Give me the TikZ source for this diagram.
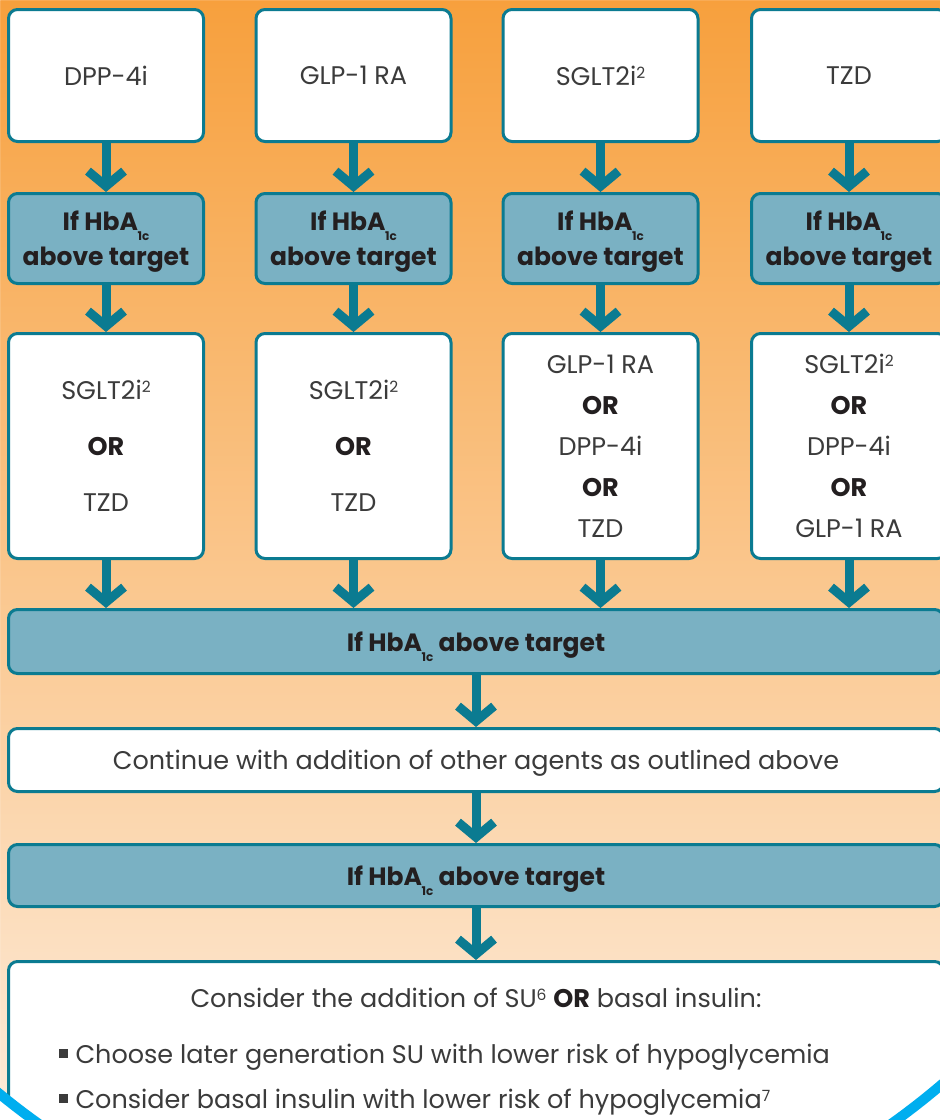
\documentclass[tikz,border=0pt]{standalone}
\usepackage{fontspec}
\setmainfont{Poppins}
\usetikzlibrary{arrows.meta}
\definecolor{boxteal}{HTML}{0B7B91}
\definecolor{boxblue}{HTML}{7AB1C3}
\definecolor{bgtop}{HTML}{F7A03D}
\definecolor{bgmid}{HTML}{FBC18D}
\definecolor{bgbot}{HTML}{FDEBD9}
\definecolor{ringblue}{HTML}{00AEEF}
\definecolor{txtgray}{HTML}{3B3B3B}
\definecolor{txtdark}{HTML}{231F20}
\newcommand{\hba}{HbA\kern-0.5pt\smash{\raisebox{-10pt}{\fontsize{12}{12}\selectfont 1c}}}
\newcommand{\sups}[1]{\raisebox{7pt}{\fontsize{15.5}{15.5}\selectfont #1}}
\newcommand{\sqbullet}{\raisebox{5pt}{\rule{9pt}{9pt}}}
\tikzset{
  drug/.style={draw=boxteal, line width=3pt, fill=white, rounded corners=9pt,
    minimum width=195pt, align=center, text=txtgray, inner sep=0pt, text depth=0pt,
    font=\fontsize{25.5}{41}\selectfont},
  check/.style={drug, fill=boxblue, text=txtdark,
    font=\bfseries\fontsize{25}{35}\selectfont},
  wide/.style={drug, minimum width=935pt},
  bodytext/.style={text=txtgray, font=\fontsize{25.5}{30}\selectfont},
  flow/.style={draw=boxteal, line width=9pt, -{Straight Barb[length=15pt,width=36pt]}},
}

\begin{document}
\begin{tikzpicture}[x=1pt, y=-1pt]
  \useasboundingbox (0,0) rectangle (940,1120);
  \clip (0,0) rectangle (940,1120);
  \shade[top color=bgtop, middle color=bgmid, bottom color=bgbot] (0,0) rectangle (940,1120);
  % first agent
  \node[drug, minimum height=132pt] (dpp) at (106,75.5) {DPP-4i};
  \node[drug, minimum height=132pt] (glp) at (353.5,75.5) {GLP-1 RA};
  \node[drug, minimum height=132pt] (sglt) at (600.5,75.5) {SGLT2i\sups{2}};
  \node[drug, minimum height=132pt] (tzd) at (849,75.5) {TZD};
  % first check
  \node[check, minimum height=90pt] (hb1) at (106,238.5) {If \hba\\above target};
  \node[check, minimum height=90pt] (hb2) at (353.5,238.5) {If \hba\\above target};
  \node[check, minimum height=90pt] (hb3) at (600.5,238.5) {If \hba\\above target};
  \node[check, minimum height=90pt] (hb4) at (849,238.5) {If \hba\\above target};
  % second agent
  \node[drug, minimum height=225pt, font=\fontsize{25.5}{56}\selectfont] (alt1) at (106,446)
    {SGLT2i\sups{2}\\\textbf{\color{txtdark}OR}\\TZD};
  \node[drug, minimum height=225pt, font=\fontsize{25.5}{56}\selectfont] (alt2) at (353.5,446)
    {SGLT2i\sups{2}\\\textbf{\color{txtdark}OR}\\TZD};
  \node[drug, minimum height=225pt] (alt3) at (600.5,446)
    {GLP-1 RA\\\textbf{\color{txtdark}OR}\\DPP-4i\\\textbf{\color{txtdark}OR}\\TZD};
  \node[drug, minimum height=225pt] (alt4) at (849,446)
    {SGLT2i\sups{2}\\\textbf{\color{txtdark}OR}\\DPP-4i\\\textbf{\color{txtdark}OR}\\GLP-1 RA};
  % common path
  \node[wide, check, minimum width=935pt, minimum height=64pt] (hb5) at (476,641.5) {If \hba{} above target};
  \node[wide, minimum height=63pt] (cont) at (476,760) {Continue with addition of other agents as outlined above};
  \node[wide, check, minimum width=935pt, minimum height=62pt] (hb6) at (476,875.5) {If \hba{} above target};
  \node[wide, minimum height=200pt] (last) at (476,1061.5) {};
  \node[bodytext] (sutitle) at (476,998)
    {Consider the addition of SU\sups{6} \textbf{\color{txtdark}OR} basal insulin:};
  \node[bodytext, anchor=west] (bul1) at (55,1057)
    {\sqbullet\hspace{8pt}Choose later generation SU with lower risk of hypoglycemia};
  \node[bodytext, anchor=west] (bul2) at (55,1102)
    {\sqbullet\hspace{8pt}Consider basal insulin with lower risk of hypoglycemia\sups{7}};
  % arrows
  \foreach \a/\b in {dpp/hb1, glp/hb2, sglt/hb3, tzd/hb4, hb1/alt1, hb2/alt2, hb3/alt3, hb4/alt4}
    \draw[flow] (\a.south) -- (\b.north);
  \foreach \a in {alt1, alt2, alt3, alt4}
    \draw[flow] (\a.south) -- (\a.south |- hb5.north);
  \draw[flow] (hb5.south) -- (cont.north);
  \draw[flow] (cont.south) -- (hb6.north);
  \draw[flow] (hb6.south) -- (last.north);
  % ring at the bottom corners
  \fill[white, even odd rule] (0,0) rectangle (940,1120) (465,525) circle[radius=738pt];
  \draw[ringblue, line width=10pt] (465,525) circle[radius=735pt];
\end{tikzpicture}
\end{document}
